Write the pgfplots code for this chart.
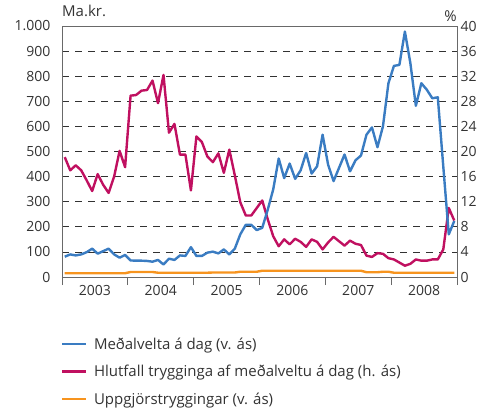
\documentclass[border=0pt]{standalone}
\usepackage{pgfplots}
\usepackage{pgfplotstable}
\pgfplotsset{compat=1.18}
\usepackage{fontspec}
\setmainfont{Open Sans}
\definecolor{cblue}{RGB}{58,124,194}
\definecolor{cmag}{RGB}{192,16,96}
\definecolor{corange}{RGB}{247,148,30}
\definecolor{ctext}{RGB}{51,51,51}
\definecolor{caxis}{RGB}{105,105,105}
\definecolor{cgrid}{RGB}{50,50,50}

\pgfplotstableread{
i B M O
0 81 19.1 15
1 90 17.0 15
2 86 17.8 15
3 90 17.0 15
4 99 15.4 15
5 113 13.7 15
6 93 16.4 15
7 103 14.7 15
8 113 13.4 15
9 90 16.0 15
10 77 20.1 15
11 88 17.5 15
12 66 28.9 20
13 65 29.0 20
14 65 29.7 20
15 64 29.8 20
16 61 31.3 20
17 68 27.7 17
18 50 32.2 17
19 73 23.0 17
20 68 24.4 17
21 86 19.5 17
22 84 19.5 17
23 119 13.8 17
24 84 22.4 17
25 84 21.5 17
26 97 19.2 17
27 101 18.3 18
28 94 19.7 18
29 110 16.6 18
30 90 20.3 18
31 113 16.2 18
32 170 11.9 21
33 208 9.8 21
34 208 9.8 21
35 187 11.0 21
36 196 12.2 25
37 268 9.2 25
38 349 6.5 25
39 472 4.9 25
40 394 6.0 25
41 452 5.2 25
42 391 6.1 25
43 425 5.6 25
44 494 4.8 25
45 412 6.0 25
46 441 5.6 25
47 567 4.4 25
48 448 5.5 25
49 382 6.4 25
50 435 5.7 25
51 488 5.0 25
52 421 5.8 25
53 465 5.3 25
54 484 5.1 25
55 567 3.4 19
56 596 3.2 19
57 517 3.8 19
58 600 3.7 21
59 772 3.0 21
60 841 2.8 17
61 845 2.3 17
62 978 1.8 17
63 852 2.1 17
64 682 2.8 17
65 772 2.6 17
66 746 2.6 17
67 712 2.8 17
68 716 2.8 17
69 440 4.4 17
70 170 11.0 17
71 223 9.0 17
}\data

\begin{document}
\begin{tikzpicture}
\pgfplotsset{
  common/.style={
    scale only axis, width=395pt, height=251pt,
    xmin=-0.5, xmax=71.5, clip=false,
    /pgf/number format/assume math mode=true,
    tick label style={font=\fontsize{14}{16}\selectfont, text=ctext},
    axis line style={caxis, line width=0.8pt},
  }
}
\begin{axis}[common,
  ymin=0, ymax=40, ytick={0,4,...,40},
  axis y line*=right, axis x line=none,
  ymajorgrids, grid style={cgrid, dash pattern=on 7pt off 6pt, line width=0.8pt},
  ytick style={draw=none},
]
\addplot[cmag, line width=2.4pt, line join=round] table[x=i, y=M]{\data};
\node[anchor=base east, inner sep=0pt, yshift=5pt, font=\fontsize{15}{17}\selectfont, text=ctext] at (axis description cs:1,1) {\%};
\end{axis}
\begin{axis}[common,
  ymin=0, ymax=1000, ytick={0,100,...,1000},
  ytick style={draw=none},
  yticklabel style={/pgf/number format/1000 sep={.}},
  xtick={-0.5,11.5,...,71.5}, xticklabels={},
  xtick pos=left, tick align=outside, major tick length=8pt,
  xtick style={caxis, line width=0.8pt},
  extra x ticks={5.5,17.5,29.5,41.5,53.5,65.5},
  extra x tick labels={2003,2004,2005,2006,2007,2008},
  extra x tick style={major tick length=0pt, xticklabel style={yshift=-5pt}},
  legend style={draw=none, fill=none, at={(0,0)}, anchor=north west, yshift=-61pt,
    inner sep=0pt, outer sep=0pt, row sep=15.5pt,
    font=\fontsize{15}{17}\selectfont, text=ctext,
    nodes={inner sep=0pt, text height=11pt, text depth=1pt},
    /tikz/every odd column/.append style={column sep=8pt}},
  legend cell align=left,
  legend image code/.code={\fill[#1, draw=none] (0pt,-1.4pt) rectangle (24pt,1.4pt);},
]
\addplot[cblue, line width=2.4pt, line join=round, forget plot] table[x=i, y=B]{\data};
\addplot[corange, line width=2.4pt, line join=round, forget plot] table[x=i, y=O]{\data};
\addlegendimage{fill=cblue}
\addlegendentry{Meðalvelta á dag (v. ás)}
\addlegendimage{fill=cmag}
\addlegendentry{Hlutfall trygginga af meðalveltu á dag (h. ás)}
\addlegendimage{fill=corange}
\addlegendentry{Uppgjörstryggingar (v. ás)}
\node[anchor=base west, inner sep=0pt, yshift=9pt, font=\fontsize{15}{17}\selectfont, text=ctext] at (axis description cs:0,1) {Ma.kr.};
\end{axis}
\path[use as bounding box] ([xshift=-62pt,yshift=-130pt]current axis.south west) rectangle ([xshift=33pt,yshift=26pt]current axis.north east);
\end{tikzpicture}
\end{document}
